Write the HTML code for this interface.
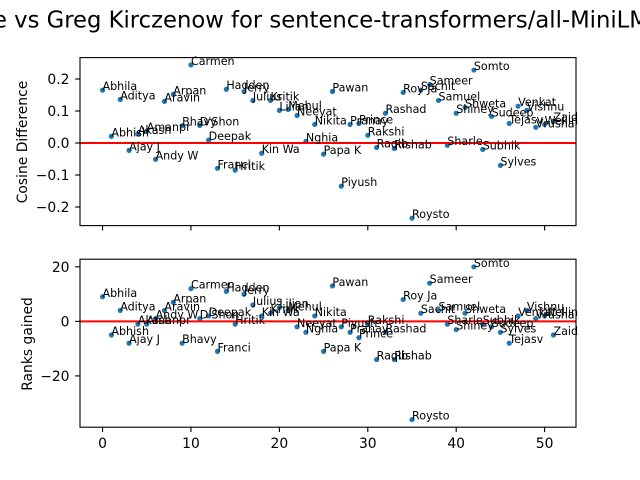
<!DOCTYPE html>
<html>
<head>
<meta charset="utf-8">
<style>
html,body{margin:0;padding:0;background:#fff;width:640px;height:480px;overflow:hidden}
svg{display:block}
text{font-family:"DejaVu Sans","Liberation Sans",sans-serif;fill:#000}
</style>
</head>
<body>
<svg id="chart" xmlns="http://www.w3.org/2000/svg" width="640" height="480" viewBox="0 0 640 480">
<rect x="0" y="0" width="640" height="480" fill="#fff"/>
<text x="-7" y="27.5" font-size="22.7">e vs Greg Kirczenow for sentence-transformers/all-MiniLM-L6-v2</text>
<text x="0" y="0" font-size="13.89" text-anchor="middle" transform="translate(27,142) rotate(-90)">Cosine Difference</text>
<text x="0" y="0" font-size="13.89" text-anchor="middle" transform="translate(32,344) rotate(-90)">Ranks gained</text>
</svg>
<script>
const names = ["Abhila","Abhish","Aditya","Ajay J","Akash","Amanpr","Andy W","Aravin","Arpan","Bhavy","Carmen","D'Shon","Deepak","Franci","Hadden","Hritik","Jerry","Julius","Kin Wa","Kritik","Lilian","Mehul","Neeyat","Nghia","Nikita","Papa K","Pawan","Piyush","Pranay","Prince","Rakshi","Raqib","Rashad","Rishab","Roy Ja","Roysto","Sachit","Sameer","Samuel","Sharle","Shiney","Shweta","Somto","Subhik","Sudeep","Sylves","Tejasv","Venkat","Vishnu","Vrusha","Wellin","Zaid"];
const cosineDifference = [0.165,0.021,0.136,-0.023,0.028,0.0375,-0.051,0.130,0.152,0.054,0.244,0.055,0.009,-0.079,0.168,-0.085,0.161,0.133,-0.032,0.133,0.102,0.105,0.086,0.005,0.058,-0.035,0.161,-0.135,0.058,0.061,0.024,-0.014,0.093,-0.017,0.158,-0.235,0.165,0.183,0.133,-0.007,0.093,0.111,0.228,-0.020,0.083,-0.070,0.061,0.115,0.102,0.049,0.058,0.068];
const ranksGained = [9,-5,4,-8,-1,-1,1,4,7,-8,12,1,2,-11,11,-1,10,6,2,3,5,4,-2,-4,2,-11,13,-2,-4,-6,-1,-14,-4,-14,8,-36,3,14,4,-1,-3,3,20,-1,-2,-4,-8,2,4,1,2,-5];
const xTicks = [0,10,20,30,40,50];
const cosineTicks = [0.2,0.1,0.0,-0.1,-0.2];
const cosineTickLabels = ["0.2","0.1","0.0","\u22120.1","\u22120.2"];
const rankTicks = [20,0,-20];
const rankTickLabels = ["20","0","\u221220"];

const NS = "http://www.w3.org/2000/svg";
const svg = document.getElementById("chart");
const plotLeft = 80, plotRight = 576;
const xDomain = [-2.55, 53.55];

function xScale(v) {
  return plotLeft + (v - xDomain[0]) / (xDomain[1] - xDomain[0]) * (plotRight - plotLeft);
}
function makeYScale(top, bottom, dMax, dMin) {
  return function (v) { return top + (dMax - v) / (dMax - dMin) * (bottom - top); };
}
function shape(tag, attrs) {
  const el = document.createElementNS(NS, tag);
  for (const k in attrs) el.setAttribute(k, attrs[k]);
  return el;
}

function drawPanel(prefix, top, bottom, yScale, values, yTicks, yTickLabels, showXLabels) {
  const g = shape("g", {});
  
  
  svg.appendChild(g);

  values.forEach(function (v, i) {
    const c = shape("circle", { cx: xScale(i), cy: yScale(v), r: 2.6, fill: "#1f77b4" });
    
    
    g.appendChild(c);
  });

  const zero = shape("line", { x1: plotLeft, x2: plotRight, y1: yScale(0), y2: yScale(0), stroke: "#ff0000", "stroke-width": 2.08 });
  
  
  g.appendChild(zero);

  const frame = shape("rect", { x: plotLeft, y: top, width: plotRight - plotLeft, height: bottom - top, fill: "none", stroke: "#000", "stroke-width": 1.11 });
  
  
  g.appendChild(frame);

  xTicks.forEach(function (t) {
    const tick = shape("line", { x1: xScale(t), x2: xScale(t), y1: bottom, y2: bottom + 4.86, stroke: "#000", "stroke-width": 1.11 });
    
    
    g.appendChild(tick);
    if (showXLabels) {
      const lab = shape("text", { x: xScale(t), y: bottom + 21, "font-size": 13.89, "text-anchor": "middle" });
      lab.textContent = String(t);
      
      
      g.appendChild(lab);
    }
  });

  yTicks.forEach(function (t, i) {
    const tick = shape("line", { x1: plotLeft - 4.86, x2: plotLeft, y1: yScale(t), y2: yScale(t), stroke: "#000", "stroke-width": 1.11 });
    
    
    g.appendChild(tick);
    const lab = shape("text", { x: plotLeft - 10.5, y: yScale(t) + 5.2, "font-size": 13.89, "text-anchor": "end" });
    lab.textContent = yTickLabels[i];
    
    
    g.appendChild(lab);
  });

  values.forEach(function (v, i) {
    const t = shape("text", { x: xScale(i), y: yScale(v), "font-size": 11.11 });
    t.textContent = names[i];
    
    
    g.appendChild(t);
  });
}

const yCosine = makeYScale(57.6, 225.6, 0.2669, -0.2581);
const yRanks = makeYScale(259.2, 427.2, 22.8, -38.8);
drawPanel("cosine", 57.6, 225.6, yCosine, cosineDifference, cosineTicks, cosineTickLabels, false);
drawPanel("ranks", 259.2, 427.2, yRanks, ranksGained, rankTicks, rankTickLabels, true);
</script>
</body>
</html>
